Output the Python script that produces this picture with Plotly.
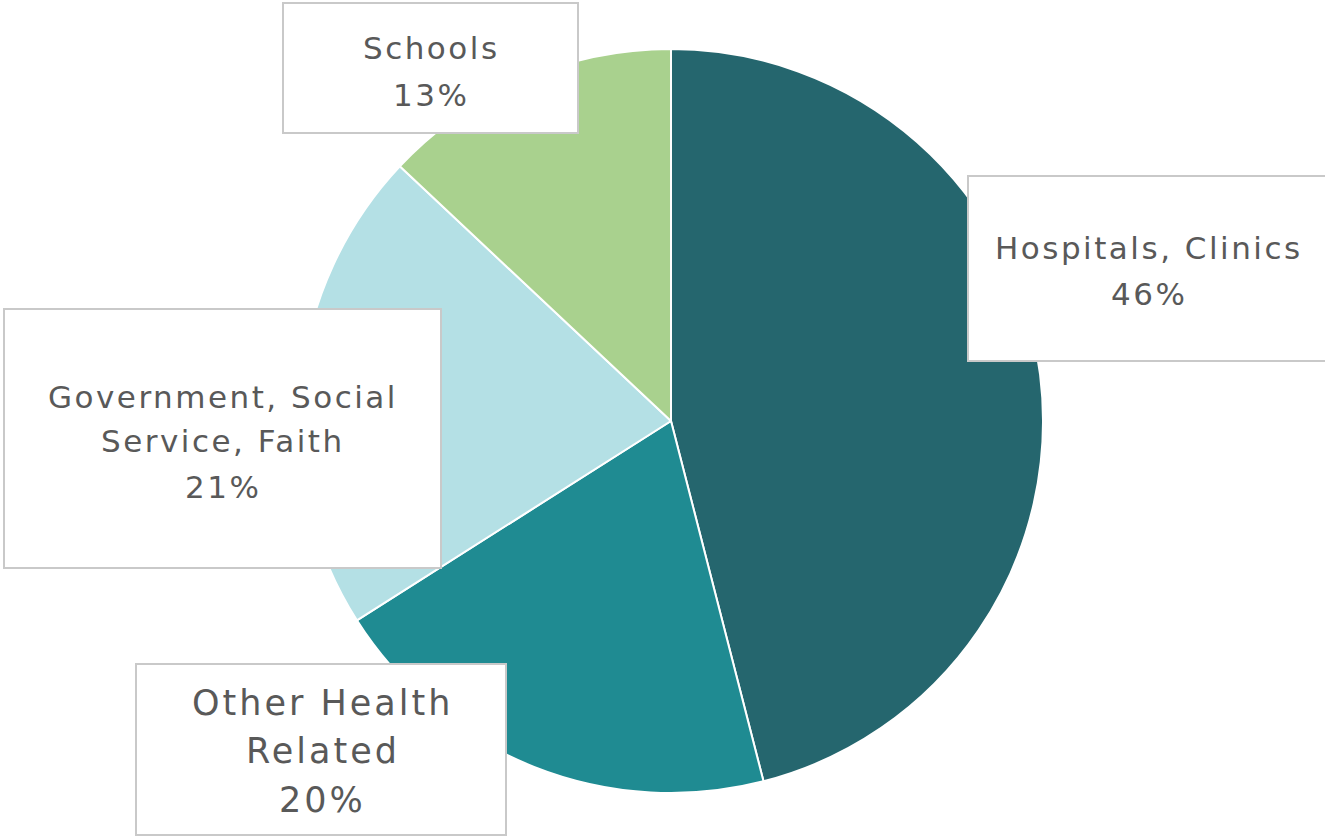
import plotly.graph_objects as go

W, H = 1325, 838

categories = ["Hospitals, Clinics", "Other Health Related", "Government, Social Service, Faith", "Schools"]
values = [46, 20, 21, 13]
colors = ["#25666e", "#1f8b92", "#b4e0e5", "#a9d18e"]
label_lines = [
    ["Hospitals, Clinics", "46%"],
    ["Other Health", "Related", "20%"],
    ["Government, Social", "Service, Faith", "21%"],
    ["Schools", "13%"],
]

# label box layout (pixels): x0, y0, x1, y1, text center x, line centers y, font size, letter spacing
boxes = [
    (968, 176, 1328, 361, 1148, [248, 294], 31, 2.5),
    (136, 664, 506, 835, 321, [703, 751, 800], 35, 3),
    (4, 309, 441, 568, 222, [397, 441, 487], 31, 2.5),
    (283, 3, 578, 133, 430, [48, 95], 31, 2.5),
]

cx, cy, r = 671, 421, 372

fig = go.Figure(go.Pie(
    labels=categories,
    values=values,
    sort=False,
    direction="clockwise",
    rotation=0,
    marker=dict(colors=colors, line=dict(color="white", width=2)),
    textinfo="none",
    hoverinfo="label+percent",
    showlegend=False,
    domain=dict(x=[(cx - r) / W, (cx + r) / W], y=[(H - cy - r) / H, (H - cy + r) / H]),
))

def px(x):
    return x / W

def py(y):
    return 1 - y / H

shapes = []
annotations = []
for (x0, y0, x1, y1, tx, lys, fs, ls), lines in zip(boxes, label_lines):
    shapes.append(dict(type="rect", xref="paper", yref="paper",
                       x0=px(x0), x1=px(x1), y0=py(y1), y1=py(y0),
                       fillcolor="white", line=dict(color="#c9c9c9", width=2), layer="above"))
    for ly, txt in zip(lys, lines):
        annotations.append(dict(x=px(tx + ls / 2), y=py(ly), xref="paper", yref="paper",
                                text=f'<span style="letter-spacing:{ls}px">' + txt + '</span>',
                                showarrow=False, xanchor="center", yanchor="middle",
                                font=dict(family="DejaVu Sans", size=fs, color="#595959")))

fig.update_layout(
    width=W, height=H,
    margin=dict(l=0, r=0, t=0, b=0),
    paper_bgcolor="white", plot_bgcolor="white",
    shapes=shapes, annotations=annotations,
)

fig.write_html("out.html", config={"displayModeBar": False},
               post_script="document.body.style.margin='0px';")
